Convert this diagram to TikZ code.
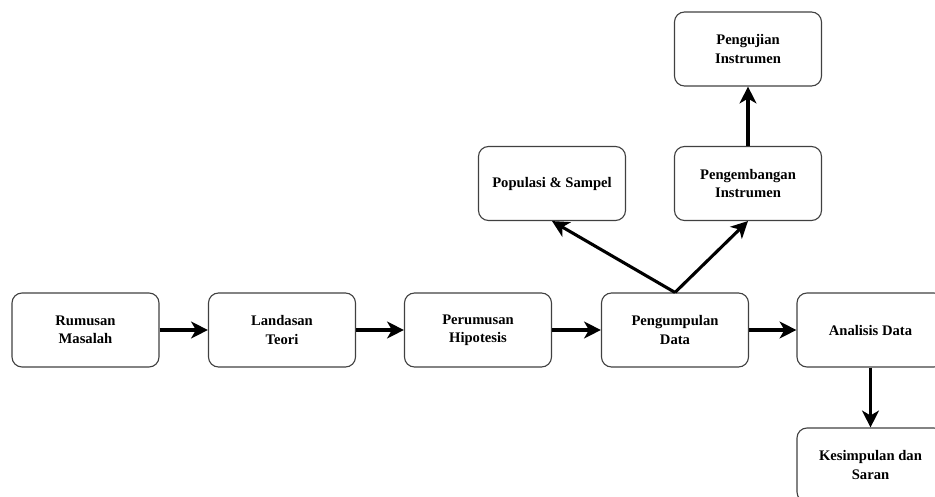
\documentclass[tikz,border=0pt]{standalone}
\usepackage{fontspec}
\setmainfont{Liberation Serif}
\usetikzlibrary{arrows.meta}

\tikzset{
box/.style={draw=black!75,line width=0.8pt,rounded corners=0.25cm,minimum width=3.675cm,minimum height=1.85cm,align=center,font=\fontsize{10.4}{13}\selectfont\bfseries},
arr/.style={line width=2.2pt,-{Stealth[length=0.42cm,width=0.42cm,inset=0.12cm]}}
}

\begin{document}
\begin{tikzpicture}

\useasboundingbox (0,0) rectangle (23.375,12.4);
\clip (0,0) rectangle (23.375,12.4);

\node[box] (rumusan) at (2.1375,4.15) {Rumusan\\Masalah};
\node[box] (landasan) at (7.05,4.15) {Landasan\\Teori};
\node[box] (hipotesis) at (11.95,4.15) {Perumusan\\Hipotesis};
\node[box] (pengumpulan) at (16.875,4.15) {Pengumpulan\\Data};
\node[box] (analisis) at (21.7625,4.15) {Analisis Data};
\node[box] (kesimpulan) at (21.7625,0.775) {Kesimpulan dan\\Saran};

\node[box] (populasi) at (13.8,7.8125) {Populasi \& Sampel};
\node[box] (pengembangan) at (18.7,7.8125) {Pengembangan\\Instrumen};
\node[box] (pengujian) at (18.7,11.175) {Pengujian\\Instrumen};

\draw[arr] (rumusan) -- (landasan);
\draw[arr] (landasan) -- (hipotesis);
\draw[arr] (hipotesis) -- (pengumpulan);
\draw[arr] (pengumpulan) -- (analisis);
\draw[arr] (analisis) -- (kesimpulan);

\draw[arr] (pengumpulan.north) -- (populasi.south);
\draw[arr] (pengumpulan.north) -- (pengembangan.south);
\draw[arr] (pengembangan) -- (pengujian);

\end{tikzpicture}
\end{document}
